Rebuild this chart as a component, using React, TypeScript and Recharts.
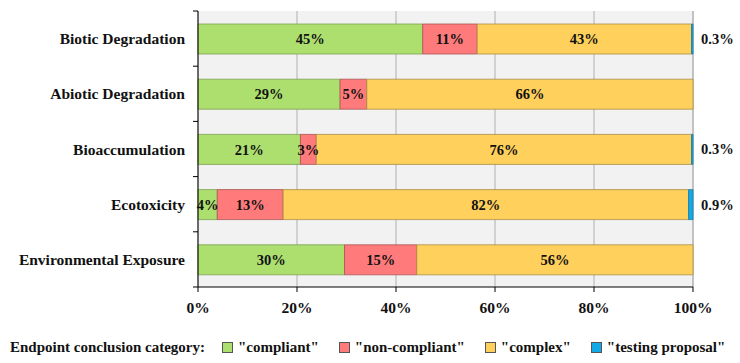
import React from 'react';
import {
  BarChart,
  Bar,
  XAxis,
  YAxis,
  CartesianGrid,
  Legend,
  LabelList,
} from 'recharts';

const CATEGORIES = [
  'Biotic Degradation',
  'Abiotic Degradation',
  'Bioaccumulation',
  'Ecotoxicity',
  'Environmental Exposure',
];
const COMPLIANT = [45.4, 28.7, 20.7, 3.9, 29.6];
const NON_COMPLIANT = [11.0, 5.4, 3.2, 13.3, 14.6];
const COMPLEX = [43.3, 65.9, 75.8, 81.9, 55.8];
const TESTING = [0.3, 0, 0.3, 0.9, 0];
const X_TICKS = [0, 20, 40, 60, 80, 100];

const SERIES = [
  { key: 'compliant', label: '"compliant"', fill: '#addf6f', stroke: '#7d9f52' },
  { key: 'nonCompliant', label: '"non-compliant"', fill: '#ff7b7b', stroke: '#a85454' },
  { key: 'complex', label: '"complex"', fill: '#ffd05b', stroke: '#a98d45' },
  { key: 'testing', label: '"testing proposal"', fill: '#12a9e6', stroke: '#1a7fa8' },
];

const data = CATEGORIES.map((name, i) => ({
  name,
  compliant: COMPLIANT[i],
  nonCompliant: NON_COMPLIANT[i],
  complex: COMPLEX[i],
  testing: TESTING[i],
}));

const W = 740;
const H = 363;
const MARGIN = { top: 11, right: 47, left: 0, bottom: 0 };
const X_AXIS_H = 30;
const LEGEND_H = 46;
const BAND = (H - MARGIN.top - X_AXIS_H - LEGEND_H) / CATEGORIES.length;
const FONT = '"Liberation Serif", serif';

const YTick = (props: any) => {
  const { x, y, payload, index } = props;
  const axisX = x + 13;
  return (
    <g>
      <text x={x} y={y} textAnchor="end" dominantBaseline="central" fontFamily={FONT} fontWeight="bold" fontSize={15.5} fill="#111">
        {payload.value}
      </text>
      <line x1={axisX - 5} x2={axisX} y1={y - BAND / 2} y2={y - BAND / 2} stroke="#000" />
      {index === CATEGORIES.length - 1 && (
        <line x1={axisX - 5} x2={axisX} y1={y + BAND / 2} y2={y + BAND / 2} stroke="#000" />
      )}
    </g>
  );
};

const OutsideLabel = (props: any) => {
  const { x, y, width, height, value } = props;
  if (!value) return null;
  return (
    <text x={x + width + 8} y={y + height / 2} dominantBaseline="central" fontFamily={FONT} fontWeight="bold" fontSize={14.5} fill="#111">
      {value.toFixed(1)}%
    </text>
  );
};

const LegendContent = () => (
  <div
    style={{
      height: LEGEND_H,
      boxSizing: 'border-box',
      paddingTop: 15,
      paddingLeft: 10,
      display: 'flex',
      alignItems: 'center',
      fontFamily: FONT,
      fontWeight: 'bold',
      fontSize: 15,
      color: '#111',
      whiteSpace: 'nowrap',
    }}
  >
    <span style={{ marginRight: 17 }}>Endpoint conclusion category:</span>
    {SERIES.map(s => (
      <span key={s.key} style={{ display: 'flex', alignItems: 'center', marginRight: 20 }}>
        <span
          style={{
            width: 9,
            height: 9,
            background: s.fill,
            border: '1px solid #555',
            marginRight: 5,
            display: 'inline-block',
          }}
        />
        {s.label}
      </span>
    ))}
  </div>
);

export default function App() {
  return (
    <div style={{ position: 'absolute', left: 0, top: 0, width: W, height: H, background: '#fff' }}>
      <BarChart width={W} height={H} data={data} layout="vertical" margin={MARGIN} barSize={30}>
        <CartesianGrid horizontal={false} stroke="#b0b0b0" fill="#f2f2f2" />
        <XAxis
          type="number"
          domain={[0, 100]}
          ticks={X_TICKS}
          tickFormatter={(v: number) => `${v}%`}
          axisLine={{ stroke: '#000' }}
          tickLine={{ stroke: '#000' }}
          tickSize={5}
          tickMargin={10}
          height={X_AXIS_H}
          tick={{ fontFamily: FONT, fontWeight: 'bold', fontSize: 15.5, fill: '#111' }}
        />
        <XAxis
          xAxisId="top"
          orientation="top"
          type="number"
          domain={[0, 100]}
          height={0}
          tick={false}
          tickLine={false}
          axisLine={{ stroke: '#8c8c8c' }}
        />
        <YAxis
          type="category"
          dataKey="name"
          width={198}
          axisLine={{ stroke: '#000' }}
          tickLine={{ stroke: 'transparent' }}
          tickSize={5}
          tickMargin={8}
          tick={<YTick />}
        />
        <Legend verticalAlign="bottom" content={<LegendContent />} wrapperStyle={{ left: 0, width: W }} />
        {SERIES.map(s => (
          <Bar
            key={s.key}
            dataKey={s.key}
            stackId="a"
            fill={s.fill}
            stroke={s.stroke}
            strokeWidth={0.8}
            isAnimationActive={false}
          >
            {s.key === 'testing' ? (
              <LabelList dataKey={s.key} content={<OutsideLabel />} />
            ) : (
              <LabelList
                dataKey={s.key}
                position="center"
                formatter={(v: any) => `${Math.round(Number(v))}%`}
                style={{ fontFamily: FONT, fontWeight: 'bold', fontSize: 14.5, fill: '#111' }}
              />
            )}
          </Bar>
        ))}
      </BarChart>
    </div>
  );
}
